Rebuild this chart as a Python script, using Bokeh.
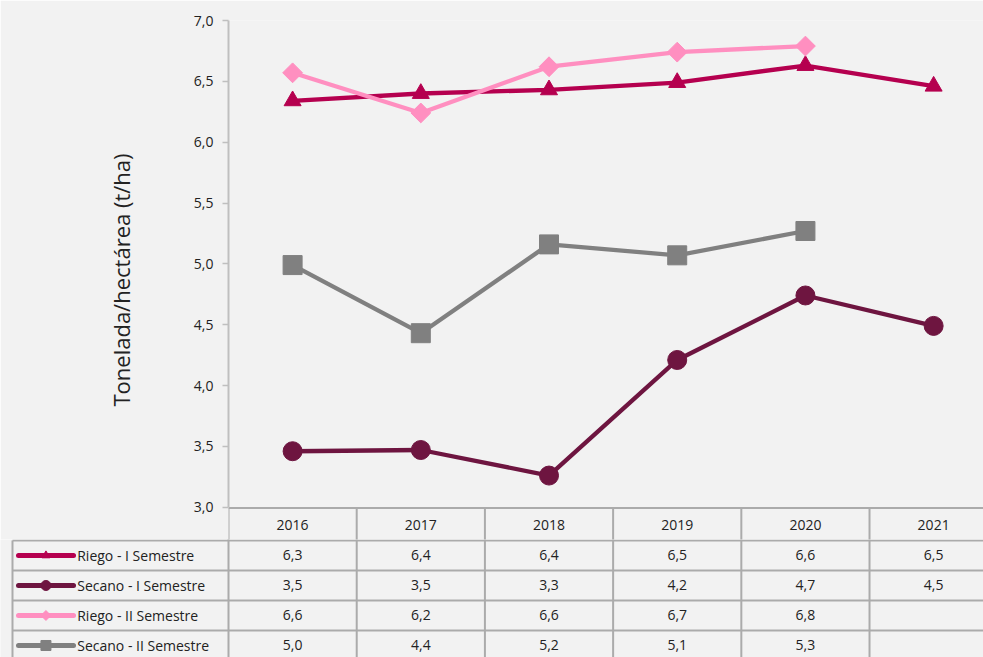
import numpy as np
from bokeh.plotting import figure
from bokeh.layouts import column
from bokeh.models import Range1d, FixedTicker, CustomJSTickFormatter, ColumnDataSource
from bokeh.core.properties import value
from bokeh.embed import file_html
from bokeh.resources import INLINE

# ---------------- data ----------------
years = ["2016", "2017", "2018", "2019", "2020", "2021"]
series_names = ["Riego - I Semestre", "Secano - I Semestre",
                "Riego - II Semestre", "Secano - II Semestre"]
riego_i = [6.34, 6.40, 6.43, 6.49, 6.63, 6.46]
secano_i = [3.46, 3.47, 3.26, 4.21, 4.74, 4.49]
riego_ii = [6.57, 6.24, 6.62, 6.74, 6.79, None]
secano_ii = [4.99, 4.43, 5.16, 5.07, 5.27, None]
y_ticks = [3.0, 3.5, 4.0, 4.5, 5.0, 5.5, 6.0, 6.5, 7.0]
y_label = "Tonelada/hectárea (t/ha)"

# ---------------- styles ----------------
BG = "#F2F2F2"
FONT = "Open Sans"
TXT = "#222222"
GRIDC = "#ABABAB"
colors = ["#B5004F", "#6E1540", "#FF8FC0", "#808080"]
markers = ["triangle", "circle", "square", "square"]
angles = [0, 0, np.pi / 4, 0]
msizes = [17, 19, 14, 19]
lsizes = [8, 10, 7, 10]
all_series = [riego_i, secano_i, riego_ii, secano_ii]
idx = list(range(len(years)))

# layout constants (column units: 1 unit = one year column; row units: 1 = one table row)
X_RIGHT = 5.389
ROW_TOP_LINE = -0.583       # top border of header row
LEFT = -2.185               # left edge of the label column
Y_BOTTOM = 2.7345           # chart frame extends below 3.0 to hold the header row

# ---------------- chart (with header row) ----------------
p = figure(width=983, height=539, output_backend="svg", toolbar_location=None,
           x_range=Range1d(-0.5, X_RIGHT), y_range=Range1d(Y_BOTTOM, 7.0),
           x_axis_location=None, min_border_left=228, min_border_right=0,
           min_border_top=20, min_border_bottom=0,
           background_fill_color=BG, border_fill_color=BG)
p.frame_align = False
p.extra_y_ranges = {"rows": Range1d(0.4667, -16.833)}
p.outline_line_color = None
p.xgrid.visible = False
p.ygrid.visible = False
yax = p.yaxis[0]
yax.bounds = (3.0, 7.0)
yax.ticker = FixedTicker(ticks=y_ticks)
yax.formatter = CustomJSTickFormatter(code="return tick.toFixed(1).replace('.', ',');")
yax.axis_line_color = "#BFBFBF"
yax.axis_line_width = 2
yax.major_tick_line_color = "#BFBFBF"
yax.major_tick_line_width = 1.5
yax.major_tick_out = 6
yax.major_tick_in = 0
yax.minor_tick_line_color = None
yax.major_label_text_font = FONT
yax.major_label_text_font_size = "14px"
yax.major_label_text_color = TXT
yax.major_label_standoff = 9
yax.axis_label = y_label
yax.axis_label_text_font = FONT
yax.axis_label_text_font_size = "22px"
yax.axis_label_text_font_style = "normal"
yax.axis_label_text_color = TXT
yax.axis_label_standoff = 55

for vals, c, m, a, s in zip(all_series, colors, markers, angles, msizes):
    xs = [i for i, v in zip(idx, vals) if v is not None]
    ys = [v for v in vals if v is not None]
    src = ColumnDataSource(dict(x=xs, y=ys))
    p.line("x", "y", source=src, line_color=c, line_width=4.3)
    p.scatter("x", "y", source=src, marker=m, angle=a, size=s,
              fill_color=c, line_color=c)

# header row lines and year labels
p.segment(x0=[-0.5], y0=[ROW_TOP_LINE], x1=[X_RIGHT], y1=[ROW_TOP_LINE],
          line_color=GRIDC, line_width=2, y_range_name="rows")
hvx = [i - 0.5 for i in range(len(years) + 1)]
p.segment(x0=hvx, y0=[ROW_TOP_LINE] * len(hvx), x1=hvx, y1=[1.0] * len(hvx),
          line_color=GRIDC, line_width=2, y_range_name="rows")
p.text(x=idx, y=[0] * len(years), text=years, text_align="center", text_baseline="middle",
       text_font=value(FONT), text_font_size="14px", text_color=TXT, y_range_name="rows")

# ---------------- table body ----------------
BOTTOM = 4.4
t = figure(width=983, height=118, output_backend="svg", toolbar_location=None,
           x_range=Range1d(-2.2785, X_RIGHT), y_range=Range1d(BOTTOM, 0.4667),
           x_axis_location=None, y_axis_location=None,
           min_border_left=0, min_border_right=0, min_border_top=0, min_border_bottom=0,
           background_fill_color=BG, border_fill_color=BG)
t.frame_align = False
t.outline_line_color = None
t.xgrid.visible = False
t.ygrid.visible = False

nrows = len(series_names)
hy = [k + 0.5 for k in range(nrows)]
t.segment(x0=[LEFT] * nrows, y0=hy, x1=[X_RIGHT] * nrows, y1=hy, line_color=GRIDC, line_width=2)
vx = [i - 0.5 for i in range(len(years) + 1)] + [LEFT]
vy0 = [0.0] * (len(years) + 1) + [0.5]
t.segment(x0=vx, y0=vy0, x1=vx, y1=[BOTTOM] * len(vx), line_color=GRIDC, line_width=2)

for k, (name, vals, c, m, a, s) in enumerate(zip(series_names, all_series, colors,
                                                  markers, angles, lsizes)):
    row = k + 1
    xs = [i for i, v in zip(idx, vals) if v is not None]
    labels = [f"{v:.1f}".replace(".", ",") for v in vals if v is not None]
    t.text(x=xs, y=[row] * len(xs), text=labels, text_align="center", text_baseline="middle",
           text_font=value(FONT), text_font_size="14px", text_color=TXT)
    t.segment(x0=[-2.138], y0=[row], x1=[-1.709], y1=[row], line_color=c, line_width=5,
              line_cap="round")
    t.scatter(x=[-1.924], y=[row], marker=m, angle=a, size=s, fill_color=c, line_color=c)
    t.text(x=[-1.68], y=[row], text=[name], text_align="left", text_baseline="middle",
           text_font=value(FONT), text_font_size="14px", text_color=TXT)

layout = column(p, t, spacing=0)
html = file_html(layout, INLINE)
html = html.replace("<body>", '<body style="margin:0;background-color:#F2F2F2;">', 1)
open("out.html", "w").write(html)
